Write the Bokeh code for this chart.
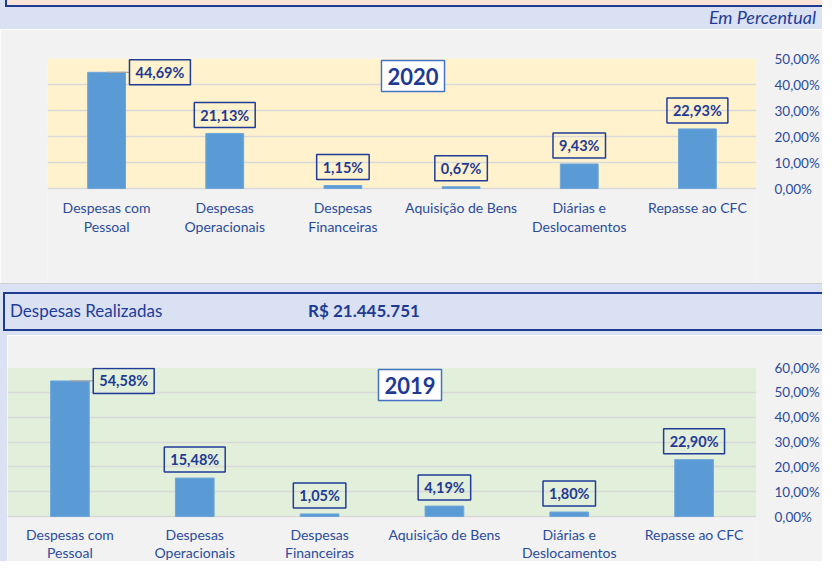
from bokeh.plotting import figure
from bokeh.models import (FactorRange, Range1d, FixedTicker, CustomJSTickFormatter,
                          Label, Div, ColumnDataSource, BoxAnnotation)
from bokeh.layouts import column, row
from bokeh.embed import file_html
from bokeh.resources import INLINE

# ---------------- data ----------------
categories = ["Despesas com Pessoal", "Despesas Operacionais", "Despesas Financeiras",
              "Aquisição de Bens", "Diárias e Deslocamentos", "Repasse ao CFC"]
tick_labels = [["Despesas com", "Pessoal"], ["Despesas", "Operacionais"],
               ["Despesas", "Financeiras"], ["Aquisição de Bens"],
               ["Diárias e", "Deslocamentos"], ["Repasse ao CFC"]]
values_2020 = [44.69, 21.13, 1.15, 0.67, 9.43, 22.93]
values_2019 = [54.58, 15.48, 1.05, 4.19, 1.80, 22.90]
y_ticks_2020 = [0, 10, 20, 30, 40, 50]
y_ticks_2019 = [0, 10, 20, 30, 40, 50, 60]
header_label = "Despesas Realizadas"
header_value = "R$ 21.445.751"
unit_note = "Em Percentual"

FONT = "Lato"
DARK = "#1F3A93"
TICK = "#2B4C9B"
BAND = "#D9E1F2"
PANEL = "#F2F2F2"
BAR = "#5B9BD5"
GRID = "#D9D9D9"
W = 822


def fmt(v):
    return f"{v:.2f}".replace(".", ",") + "%"


def make_chart(year, values, yticks, bg, width, height, left, top, plot_h,
               bar_w, year_dx, line_step):
    ymax = yticks[-1]
    below_px = height - top - plot_h
    y_start = -ymax * below_px / plot_h
    p = figure(x_range=FactorRange(factors=categories), y_range=Range1d(y_start, ymax),
               width=width, height=height, output_backend="svg", toolbar_location=None,
               y_axis_location="right", min_border_left=left, min_border_right=61,
               min_border_top=top, min_border_bottom=0)
    p.x_range.range_padding = 0
    p.background_fill_color = PANEL
    p.border_fill_color = PANEL
    p.outline_line_color = None
    p.add_layout(BoxAnnotation(bottom=0, top=ymax, fill_color=bg, fill_alpha=1,
                               line_color=None, level="image"))
    p.xgrid.grid_line_color = None
    p.ygrid.grid_line_color = GRID
    p.ygrid.grid_line_width = 1.5
    p.ygrid.ticker = FixedTicker(ticks=yticks)
    p.yaxis.ticker = FixedTicker(ticks=yticks)
    p.yaxis.formatter = CustomJSTickFormatter(
        code="return tick.toFixed(2).replace('.', ',') + '%';")
    p.yaxis.axis_line_color = None
    p.yaxis.major_tick_line_color = None
    p.yaxis.minor_tick_line_color = None
    p.yaxis.major_label_standoff = 12
    p.yaxis.major_label_text_font = FONT
    p.yaxis.major_label_text_font_size = "13.5px"
    p.yaxis.major_label_text_color = TICK
    p.xaxis.visible = False

    # category labels (up to two lines) below the plot area
    for i, lines in enumerate(tick_labels):
        for k, line in enumerate(lines):
            p.add_layout(Label(x=i + 0.5, y=0, y_offset=-line_step * (k + 1), anchor="center",
                               text=line, text_font=FONT, text_font_size="14px",
                               text_color=TICK))

    src = ColumnDataSource(dict(cat=categories, val=values))
    p.vbar(x="cat", top="val", width=bar_w, source=src,
           fill_color=BAR, line_color="#6FA6DA", line_width=1)

    for i, v in enumerate(values):
        common = dict(text=fmt(v), text_font=FONT, text_font_size="14.5px",
                      text_font_style="bold", text_color=DARK,
                      border_line_color="#203C96", border_line_width=1.5,
                      background_fill_color=None,
                      padding=dict(left=6, right=6, top=4, bottom=4))
        if v > 0.85 * ymax:
            p.segment(x0=[i + 0.5], y0=[v], x1=[i + 0.5 + bar_w / 2 + 0.03], y1=[v],
                      line_color="#A6A6A6", line_width=1.2)
            lab = Label(x=i + 0.5 + bar_w / 2, y=v, x_offset=4, anchor="center_left", **common)
        else:
            lab = Label(x=i + 0.5, y=v, y_offset=6, anchor="bottom_center", **common)
        p.add_layout(lab)

    yl = Label(x=len(categories) / 2, y=ymax, x_offset=year_dx, y_offset=-2,
               anchor="top_center", text=str(year), text_font=FONT,
               text_font_size="22px", text_font_style="bold", text_color=DARK,
               background_fill_color="white", border_line_color="#4472C4",
               border_line_width=1.5, padding=dict(left=6, right=6, top=7, bottom=7))
    p.add_layout(yl)
    return p


top_div = Div(width=W, height=29, margin=0, styles={"overflow": "hidden"}, text=f"""
<div style="position:relative;width:{W}px;height:29px;background:{BAND};font-family:{FONT};overflow:hidden;">
  <div style="position:absolute;left:5px;top:-4px;width:{W}px;height:11px;box-sizing:border-box;
              background:#FCE4D6;border-left:2.5px solid {DARK};border-bottom:2.5px solid {DARK};"></div>
  <div style="position:absolute;right:6px;top:7px;font-size:18px;font-style:italic;color:#1F3C99;
              line-height:20px;white-space:nowrap;">{unit_note}</div>
</div>""")

chart_2020 = make_chart(2020, values_2020, y_ticks_2020, "#FFF2CC", W, 254,
                        left=47, top=29, plot_h=130, bar_w=0.32, year_dx=11, line_step=19)

header_div = Div(width=W, height=52, margin=0, styles={"overflow": "hidden"}, text=f"""
<div style="position:relative;width:{W}px;height:52px;background:{BAND};font-family:{FONT};overflow:hidden;border-top:1px solid #D0D0D0;box-sizing:border-box;">
  <div style="position:absolute;left:3px;top:8px;width:{W}px;height:39px;box-sizing:border-box;
              background:{BAND};border:2.5px solid {DARK};border-right:none;">
    <div style="position:absolute;left:5px;top:7px;font-size:17px;color:#1F3C99;line-height:20px;white-space:nowrap;">{header_label}</div>
    <div style="position:absolute;left:303px;top:7px;font-size:17px;font-weight:bold;color:{DARK};line-height:20px;white-space:nowrap;">{header_value}</div>
  </div>
</div>""")

spacer = Div(width=7, height=226, margin=0,
             text=f'<div style="width:7px;height:226px;background:{BAND};"></div>')
chart_2019 = make_chart(2019, values_2019, y_ticks_2019, "#E2EFDA", W - 7, 226,
                        left=0, top=32, plot_h=149, bar_w=0.31, year_dx=28, line_step=18)

layout = column(top_div, chart_2020, header_div, row(spacer, chart_2019, spacing=0), spacing=0)

open("out.html", "w").write(file_html(layout, INLINE))
